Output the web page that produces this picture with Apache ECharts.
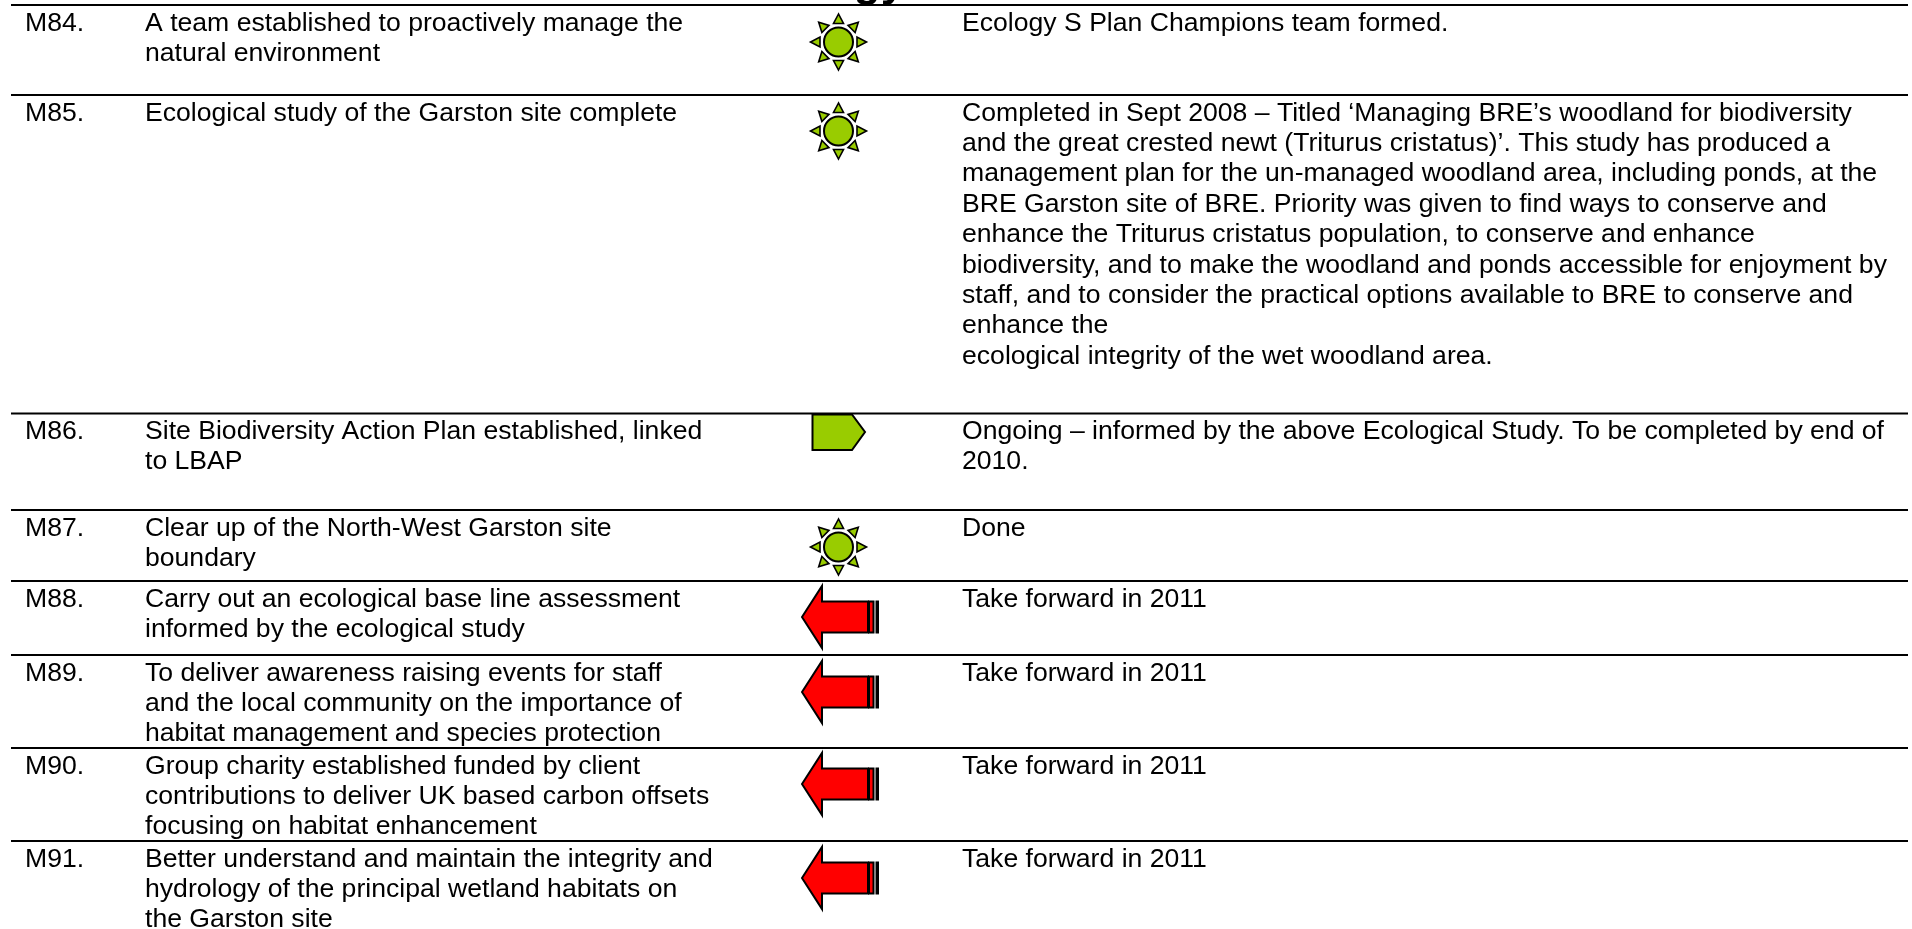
<!DOCTYPE html>
<html><head><meta charset="utf-8"><title>Ecology</title>
<style>html,body{margin:0;padding:0;background:#fff}#c{width:1912px;height:929px}</style>
<script src="https://cdn.jsdelivr.net/npm/echarts@6/dist/echarts.min.js"></script>
</head><body><div id="c"></div>
<script>
const title = "Ecology";
const ids = ["M84.","M85.","M86.","M87.","M88.","M89.","M90.","M91."];
const goals = [
 "A team established to proactively manage the\nnatural environment",
 "Ecological study of the Garston site complete",
 "Site Biodiversity Action Plan established, linked\nto LBAP",
 "Clear up of the North-West Garston site\nboundary",
 "Carry out an ecological base line assessment\ninformed by the ecological study",
 "To deliver awareness raising events for staff\nand the local community on the importance of\nhabitat management and species protection",
 "Group charity established funded by client\ncontributions to deliver UK based carbon offsets\nfocusing on habitat enhancement",
 "Better understand and maintain the integrity and\nhydrology of the principal wetland habitats on\nthe Garston site"
];
const statuses = ["sun","sun","tag","sun","arrow","arrow","arrow","arrow"];
const comments = [
 "Ecology S Plan Champions team formed.",
 "Completed in Sept 2008 – Titled ‘Managing BRE’s woodland for biodiversity\nand the great crested newt (Triturus cristatus)’. This study has produced a\nmanagement plan for the un-managed woodland area, including ponds, at the\nBRE Garston site of BRE. Priority was given to find ways to conserve and\nenhance the Triturus cristatus population, to conserve and enhance\nbiodiversity, and to make the woodland and ponds accessible for enjoyment by\nstaff, and to consider the practical options available to BRE to conserve and\nenhance the\necological integrity of the wet woodland area.",
 "Ongoing – informed by the above Ecological Study. To be completed by end of\n2010.",
 "Done",
 "Take forward in 2011","Take forward in 2011","Take forward in 2011","Take forward in 2011"
];
// layout (pixels of the page), kept apart from the content
const ruleTop = [5,95,413.5,510,581,655,748,841];
const iconY = [42,131,432,547,617,692,784,878];
const X = {rule0:11, rule1:1908, id:25, goal:145, icon:838.5, comment:962};
const FONT = 'Liberation Sans, Arial, sans-serif', FS = 26.6, LH = 30.4, INK = '#000';
const GREEN = '#99cc00', RED = '#ff0000';

function sun(cx, cy){
  const els = [{type:'circle',shape:{cx,cy,r:14.5},style:{fill:GREEN,stroke:INK,lineWidth:2}}];
  for(let i=0;i<8;i++){
    const a = i*Math.PI/4, c = Math.cos(a), s = Math.sin(a);
    const p = (d,w)=>[cx+c*d-s*w, cy+s*d+c*w];
    els.push({type:'polygon',shape:{points:[p(28,0),p(18.5,-5),p(18.5,5)]},
      style:{fill:GREEN,stroke:INK,lineWidth:1.6,lineJoin:'miter'}});
  }
  return els;
}
function tag(cx, cy){
  const l=cx-26, r=cx+26.5, t=cy-17.5, b=cy+18, k=cx+13.5;
  return [{type:'polygon',shape:{points:[[l,t],[k,t],[r,cy],[k,b],[l,b]]},
    style:{fill:GREEN,stroke:INK,lineWidth:2}}];
}
function arrow(cx, cy){
  const tip=cx-36.5, nk=cx-16.5, end=cx+29.5;
  return [
   {type:'polygon',shape:{points:[[tip,cy],[nk,cy-31],[nk,cy-15.5],[end,cy-15.5],[end,cy+15.5],[nk,cy+15.5],[nk,cy+31]]},
    style:{fill:RED,stroke:INK,lineWidth:2}},
   {type:'rect',shape:{x:end+1,y:cy-15.5,width:4.5,height:31},style:{fill:RED,stroke:INK,lineWidth:2}},
   {type:'rect',shape:{x:end+8.5,y:cy-15.5,width:1.5,height:31},style:{fill:INK,stroke:INK,lineWidth:2}}
  ];
}
const ICONS = {sun, tag, arrow};
function txt(x,y,text,extra){
  return {type:'text',x,y,style:Object.assign({text,fill:INK,font:FS+'px '+FONT,lineHeight:LH,
    textAlign:'left',textVerticalAlign:'top'},extra||{})};
}
const rows = ids.map((id,i)=>[i]);
const chart = echarts.init(document.getElementById('c'));
chart.setOption({
  animation:false,
  grid:{left:0,right:0,top:0,bottom:0},
  xAxis:{type:'value',min:0,max:1912,show:false},
  yAxis:{type:'value',min:0,max:929,inverse:true,show:false},
  series:[{
    type:'custom',coordinateSystem:'cartesian2d',clip:false,silent:true,
    data:rows,
    encode:{x:0,y:0},
    renderItem(params,api){
      const i=api.value(0);
      const P=(x,y)=>api.coord([x,y]);
      const top=ruleTop[i];
      const [x0,y0]=P(X.rule0,top), [x1]=P(X.rule1,top);
      const textY=y0+3;
      const children=[];
      if(i===0) children.push({type:'text',x:734,y:6,style:{text:title,fill:INK,
        font:'bold 44px '+FONT,textAlign:'left',textVerticalAlign:'bottom'}});
      children.push(
        {type:'line',shape:{x1:x0,y1:y0,x2:x1,y2:y0},style:{stroke:INK,lineWidth:2}},
        txt(P(X.id,0)[0],textY,ids[i]),
        txt(P(X.goal,0)[0],textY,goals[i]),
        txt(P(X.comment,0)[0],textY,comments[i])
      );
      const [ix,iy]=P(X.icon,iconY[i]);
      children.push(...ICONS[statuses[i]](ix,iy));
      return {type:'group',children};
    }
  }]
});
</script></body></html>
